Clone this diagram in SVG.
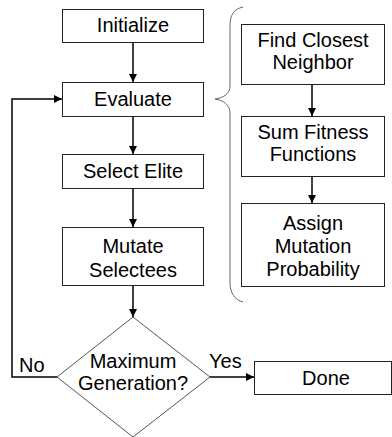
<svg xmlns="http://www.w3.org/2000/svg" width="392" height="437" viewBox="0 0 392 437">
<style>
.box{fill:#fff;stroke:#222;stroke-width:1}
.dia{fill:#fff;stroke:#555;stroke-width:1}
.t{font-family:"Liberation Sans",Arial,sans-serif;font-size:20px;fill:#000;text-anchor:middle}
.tl{font-family:"Liberation Sans",Arial,sans-serif;font-size:20px;fill:#000}
.c{fill:none;stroke:#000;stroke-width:1.5}
.brace{fill:none;stroke:#666;stroke-width:1}
</style>
<defs>
<marker id="ah" markerWidth="8" markerHeight="8" refX="8" refY="4" orient="auto" markerUnits="userSpaceOnUse">
<path d="M0,0 L8,4 L0,8 Z" fill="#000"/>
</marker>
</defs>
<rect width="392" height="437" fill="#fff"/>
<g id="connectors">
<line class="c" x1="133" y1="42" x2="133" y2="82" marker-end="url(#ah)"/>
<line class="c" x1="133" y1="116" x2="133" y2="154" marker-end="url(#ah)"/>
<line class="c" x1="133" y1="188" x2="133" y2="227" marker-end="url(#ah)"/>
<line class="c" x1="133" y1="285" x2="133" y2="317" marker-end="url(#ah)"/>
<polyline class="c" points="57,377 12,377 12,99 62,99" marker-end="url(#ah)"/>
<line class="c" x1="210" y1="377" x2="254" y2="377" marker-end="url(#ah)"/>
<line class="c" x1="312" y1="84" x2="312" y2="116" marker-end="url(#ah)"/>
<line class="c" x1="312" y1="176" x2="312" y2="203" marker-end="url(#ah)"/>
<text class="tl" x="19" y="372">No</text>
<text class="tl" x="209" y="368">Yes</text>
</g>
<g id="brace">
<path class="brace" d="M243,7 C234,9 230,15 230,25 L230,86 C230,94 223,98 215,99 C223,100 230,105 230,113 L230,283 C230,293 235,300 243,302"/>
</g>
<g id="initialize">
<rect class="box" x="62.5" y="9.5" width="141" height="33"/>
<text class="t" x="133" y="32">Initialize</text>
</g>
<g id="evaluate">
<rect class="box" x="62.5" y="82.5" width="141" height="34"/>
<text class="t" x="133" y="106">Evaluate</text>
</g>
<g id="select-elite">
<rect class="box" x="62.5" y="154.5" width="141" height="34"/>
<text class="t" x="133" y="178">Select Elite</text>
</g>
<g id="mutate-selectees">
<rect class="box" x="62.5" y="227.5" width="141" height="58"/>
<text class="t" x="133" y="253">Mutate</text>
<text class="t" x="133" y="277">Selectees</text>
</g>
<g id="max-generation">
<polygon class="dia" points="133,317 210,377 133,437 57,377"/>
<text class="t" x="133" y="368">Maximum</text>
<text class="t" x="133" y="390">Generation?</text>
</g>
<g id="done">
<rect class="box" x="254.5" y="361.5" width="137" height="33"/>
<text class="t" x="326" y="385">Done</text>
</g>
<g id="find-closest-neighbor">
<rect class="box" x="241.5" y="24.5" width="143" height="60"/>
<text class="t" x="313" y="47">Find Closest</text>
<text class="t" x="313" y="69">Neighbor</text>
</g>
<g id="sum-fitness-functions">
<rect class="box" x="241.5" y="116.5" width="143" height="60"/>
<text class="t" x="313" y="139">Sum Fitness</text>
<text class="t" x="313" y="161">Functions</text>
</g>
<g id="assign-mutation-probability">
<rect class="box" x="241.5" y="203.5" width="143" height="83"/>
<text class="t" x="313" y="230">Assign</text>
<text class="t" x="313" y="253">Mutation</text>
<text class="t" x="313" y="276">Probability</text>
</g>
</svg>
